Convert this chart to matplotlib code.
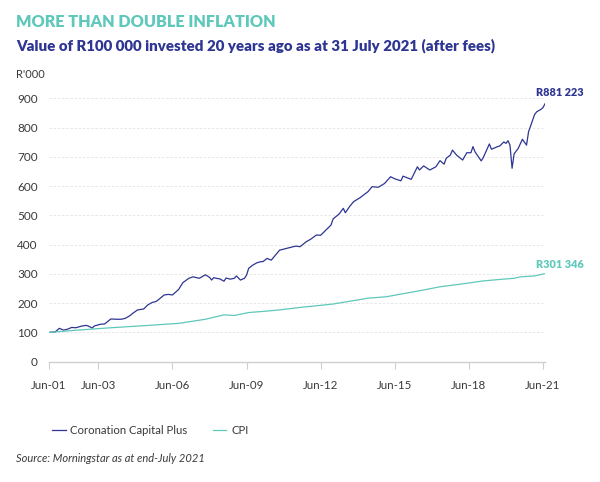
"""
Value of R100 000 invested 20 years ago: Coronation Capital Plus vs CPI.
"""
# --- Import packages
import pandas as pd
import matplotlib.pyplot as plt
import matplotlib.dates as mdates

plt.rcParams['font.family'] = ['Lato', 'DejaVu Sans']

# --- Colours
NAVY = '#2e3592'
TEAL = '#5ec8ba'
GREY_TXT = '#3a3a3a'

# --- Data (R'000)
fund_months = [
    '2001-06', '2001-09', '2001-11', '2002-01', '2002-03', '2002-05', '2002-07', '2002-10',
    '2002-12', '2003-01', '2003-03', '2003-04', '2003-07', '2003-09', '2003-11', '2003-12',
    '2004-03', '2004-05', '2004-07', '2004-09', '2004-11', '2005-01', '2005-03', '2005-04',
    '2005-06', '2005-08', '2005-10', '2005-11', '2006-02', '2006-04', '2006-06', '2006-09',
    '2006-11', '2007-02', '2007-04', '2007-07', '2007-10', '2007-12', '2008-01', '2008-02',
    '2008-04', '2008-05', '2008-07', '2008-08', '2008-10', '2008-12', '2009-01', '2009-03',
    '2009-05', '2009-06', '2009-07', '2009-09', '2009-11', '2010-01', '2010-02', '2010-04',
    '2010-06', '2010-10', '2011-03', '2011-06', '2011-08', '2011-11', '2012-01', '2012-04',
    '2012-06', '2012-11', '2012-12', '2013-02', '2013-03', '2013-05', '2013-06', '2013-08',
    '2013-10', '2014-01', '2014-05', '2014-07', '2014-10', '2015-01', '2015-04', '2015-06',
    '2015-09', '2015-10', '2016-02', '2016-05', '2016-06', '2016-08', '2016-11', '2017-02',
    '2017-04', '2017-06', '2017-07', '2017-09', '2017-10', '2017-12', '2018-03', '2018-05',
    '2018-07', '2018-08', '2018-09', '2018-12', '2019-01', '2019-04', '2019-05', '2019-08',
    '2019-09', '2019-11', '2019-12', '2020-01', '2020-02', '2020-03', '2020-04', '2020-06',
    '2020-08', '2020-10', '2020-11', '2021-02', '2021-03', '2021-05', '2021-06', '2021-07',
]
fund_values = [
    100, 102, 114, 108, 111, 117, 116, 122,
    124, 122, 115, 122, 128, 129, 140, 146,
    145, 145, 148, 156, 167, 177, 179, 180,
    194, 202, 206, 211, 228, 230, 228, 247,
    270, 285, 290, 285, 297, 288, 279, 287,
    284, 283, 275, 286, 282, 285, 293, 279,
    285, 296, 319, 330, 338, 342, 342, 353,
    347, 381, 390, 395, 393, 410, 418, 433,
    432, 467, 488, 499, 505, 524, 509, 530,
    547, 560, 581, 598, 596, 609, 632, 625,
    618, 634, 623, 666, 655, 669, 655, 666,
    687, 675, 695, 706, 723, 706, 689, 714,
    714, 735, 717, 686, 698, 744, 726, 735,
    737, 751, 746, 755, 740, 661, 710, 729,
    760, 740, 786, 845, 854, 862, 868, 881,
]

cpi_months = [
    '2001-06', '2002-08', '2003-12', '2005-04', '2006-09', '2007-10', '2008-07', '2008-12',
    '2009-07', '2010-04', '2010-10', '2011-04', '2011-10', '2012-12', '2014-05', '2015-02',
    '2015-09', '2016-05', '2017-04', '2018-02', '2019-01', '2019-09', '2020-04', '2020-07',
    '2021-02', '2021-07',
]
cpi_values = [
    100, 108, 116, 123, 131, 145, 160, 158,
    168, 173, 177, 182, 187, 197, 217, 222,
    231, 241, 256, 265, 276, 281, 285, 290,
    293, 301,
]

tick_years = [2001, 2003, 2006, 2009, 2012, 2015, 2018, 2021]
y_ticks = [0, 100, 200, 300, 400, 500, 600, 700, 800, 900]

fund_dates = pd.to_datetime(fund_months) + pd.offsets.MonthEnd(0)
cpi_dates = pd.to_datetime(cpi_months) + pd.offsets.MonthEnd(0)
tick_dates = [pd.Timestamp(f'{y}-06-30') for y in tick_years]

# --- Plot
fig = plt.figure(figsize=(6.0, 4.82), dpi=100)
ax = fig.add_axes([49 / 600, 1 - 361.7 / 482, 496 / 600, 263.4 / 482])

ax.plot(fund_dates, fund_values, color=NAVY, lw=0.9, label='Coronation Capital Plus', zorder=3)
ax.plot(cpi_dates, cpi_values, color=TEAL, lw=0.9, label='CPI', zorder=3)

ax.set_xlim(pd.Timestamp('2001-06-30'), pd.Timestamp('2021-07-31'))
ax.set_ylim(0, 900)
ax.set_yticks(y_ticks)
ax.set_xticks(tick_dates)
ax.xaxis.set_major_formatter(mdates.DateFormatter('Jun-%y'))

for s in ['top', 'right', 'left']:
    ax.spines[s].set_visible(False)
ax.spines['bottom'].set_color('#cfcfcf')
ax.spines['bottom'].set_linewidth(1.0)

ax.tick_params(axis='x', colors='#cfcfcf', length=5, width=0.8, labelcolor=GREY_TXT,
               labelsize=8.3, pad=8)
ax.tick_params(axis='y', length=0, labelcolor=GREY_TXT, labelsize=8.5, pad=8)
ax.grid(axis='y', color='#e4e4e4', lw=0.6, linestyle=(0, (3, 2)))
ax.set_axisbelow(True)

# --- End-value labels
ax.annotate('R881 223', (fund_dates[-1], fund_values[-1]), xytext=(11, 8),
            textcoords='offset points', color=NAVY, fontsize=7.8, fontweight='heavy',
            ha='center', va='center', annotation_clip=False)
ax.annotate('R301 346', (cpi_dates[-1], cpi_values[-1]), xytext=(11, 6.5),
            textcoords='offset points', color=TEAL, fontsize=7.8, fontweight='heavy',
            ha='center', va='center', annotation_clip=False)

# --- Titles and notes
fig.text(16 / 600, 1 - 22 / 482, 'MORE THAN DOUBLE INFLATION', color=TEAL, fontsize=11.6,
         fontweight='heavy', va='center')
fig.text(16 / 600, 1 - 46 / 482,
         'Value of R100 000 invested 20 years ago as at 31 July 2021 (after fees)',
         color=NAVY, fontsize=10.8, fontweight='heavy', va='center')
fig.text(16 / 600, 1 - 74 / 482, "R'000", color=GREY_TXT, fontsize=8, va='center')
fig.text(16 / 600, 1 - 458 / 482, 'Source: Morningstar as at end-July 2021', color=GREY_TXT,
         fontsize=8, style='italic', va='center')

fig.legend(loc='center left', bbox_to_anchor=(42 / 600, 1 - 430 / 482), ncol=2, frameon=False,
           fontsize=8.2, handlelength=1.2, handletextpad=0.4, columnspacing=2.2,
           labelcolor=GREY_TXT)

# --- Save plot
fig.savefig('out.png', dpi=100)
